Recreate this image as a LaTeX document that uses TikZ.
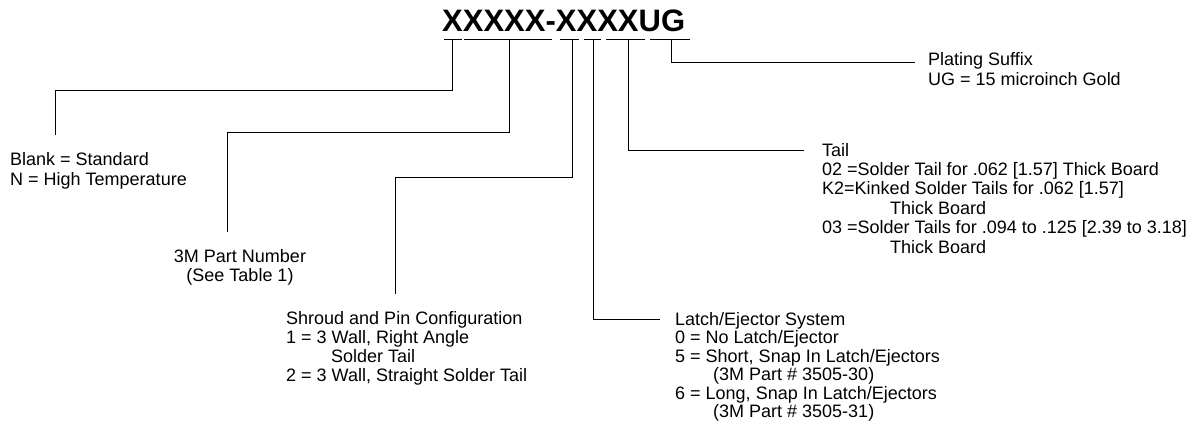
\documentclass[tikz,border=0pt]{standalone}
\usepackage{fontspec}
\setmainfont{Liberation Sans}
\newcommand{\leftlines}[2]{{\fontsize{18}{#1}\selectfont\begin{tabular}[t]{@{}l@{}}#2\end{tabular}}}
\newcommand{\midlines}[2]{{\fontsize{18}{#1}\selectfont\begin{tabular}[t]{@{}c@{}}#2\end{tabular}}}
\begin{document}
\begin{tikzpicture}[x=1pt,y=-1pt,
  lead/.style={line width=0.8pt, black},
  blocktxt/.style={inner sep=0pt, anchor=base west},
  titletxt/.style={font=\bfseries\fontsize{31}{31}\selectfont, inner sep=0pt, anchor=base west}]
\useasboundingbox (0,0) rectangle (1203,432);

\node[titletxt] (title) at (442,31.5) {XXXXX-XXXXUG};

% underline segments
\coordinate (u1a) at (444,39); \coordinate (u1b) at (462,39);
\coordinate (u2a) at (464,39); \coordinate (u2b) at (552,39);
\coordinate (u3a) at (560,39); \coordinate (u3b) at (579,39);
\coordinate (u4a) at (584,39); \coordinate (u4b) at (601,39);
\coordinate (u5a) at (606,39); \coordinate (u5b) at (645,39);
\coordinate (u6a) at (650,39); \coordinate (u6b) at (690,39);
\foreach \i in {1,...,6} {\draw[lead] (u\i a) -- (u\i b);}

% text blocks (anchored at the baseline of the first line)
\node[blocktxt] (blank) at (10,165) {\leftlines{20}{Blank = Standard\\N = High Temperature}};
\node[blocktxt, anchor=base] (part) at (240,262) {\midlines{19}{3M Part Number\\(See Table 1)}};
\node[blocktxt] (shroud) at (286,324) {\leftlines{19}{Shroud and Pin Configuration\\1 = 3 Wall, Right Angle\\\hspace*{45pt}Solder Tail\\2 = 3 Wall, Straight Solder Tail}};
\node[blocktxt] (latch) at (675,325) {\leftlines{18.5}{Latch/Ejector System\\0 = No Latch/Ejector\\5 = Short, Snap In Latch/Ejectors\\\hspace*{38pt}(3M Part \# 3505-30)\\6 = Long, Snap In Latch/Ejectors\\\hspace*{38pt}(3M Part \# 3505-31)}};
\node[blocktxt] (tail) at (822,156) {\leftlines{19.4}{Tail\\02 =Solder Tail for .062 [1.57] Thick Board\\K2=Kinked Solder Tails for .062 [1.57]\\\hspace*{68pt}Thick Board\\03 =Solder Tails for .094 to .125 [2.39 to 3.18]\\\hspace*{68pt}Thick Board}};
\node[blocktxt] (plating) at (928,65) {\leftlines{20}{Plating Suffix\\UG = 15 microinch Gold}};

% leader end points
\coordinate (b1) at (452,39); \coordinate (b2) at (55,135);
\coordinate (p1) at (509,39); \coordinate (p2) at (227,232);
\coordinate (s1) at (572,39); \coordinate (s2) at (395,294);
\coordinate (l1) at (593,39); \coordinate (l2) at (660,319);
\coordinate (t1) at (628,39); \coordinate (t2) at (804,150);
\coordinate (g1) at (671,39); \coordinate (g2) at (915,62.5);

\draw[lead] (b1) |- (55,90) -- (b2);
\draw[lead] (p1) |- (227,132) -- (p2);
\draw[lead] (s1) |- (395,177) -- (s2);
\draw[lead] (l1) |- (l2);
\draw[lead] (t1) |- (t2);
\draw[lead] (g1) |- (g2);
\end{tikzpicture}
\end{document}
